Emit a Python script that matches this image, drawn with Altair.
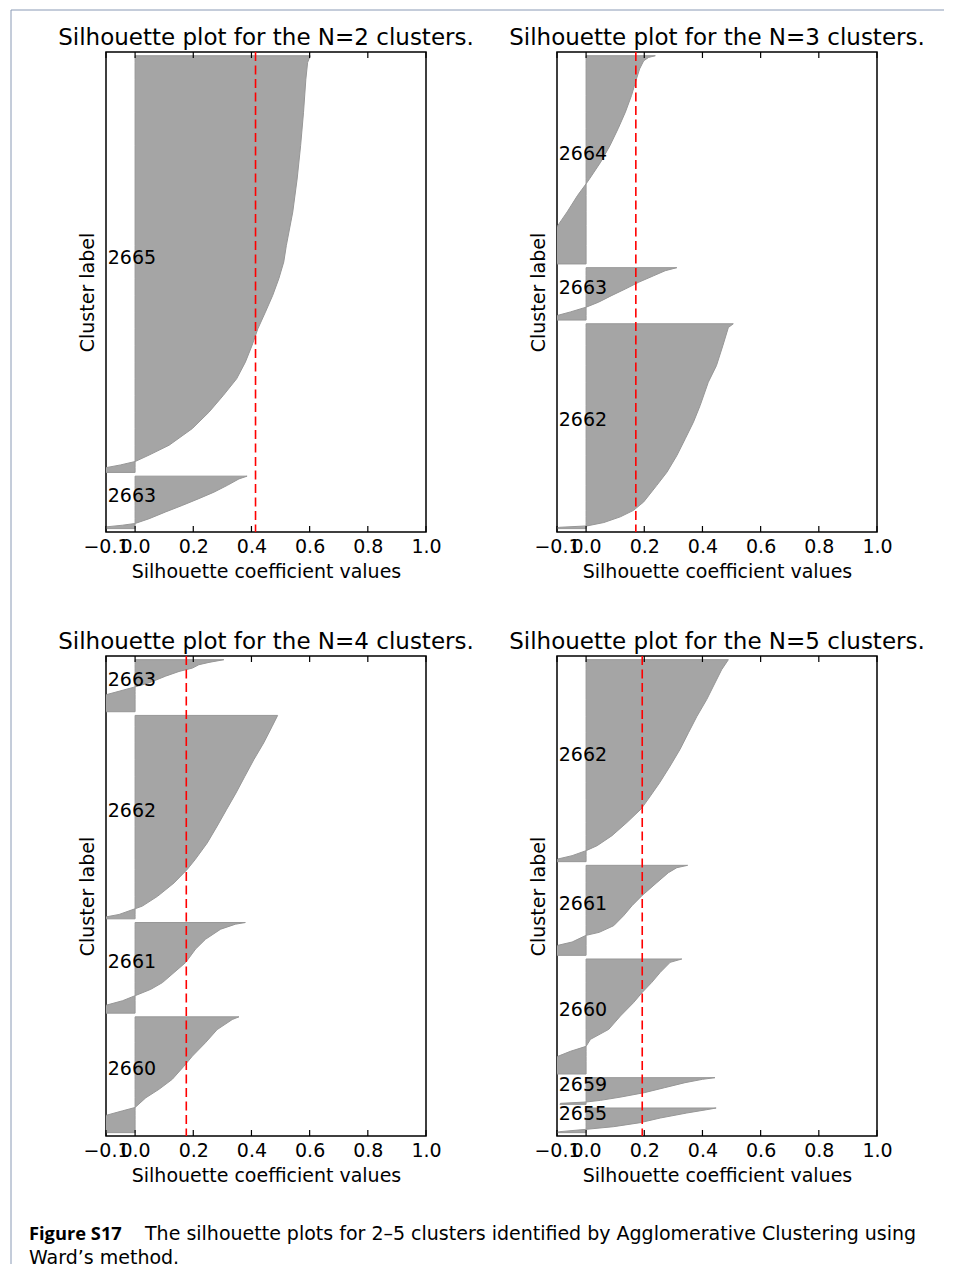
import altair as alt
import pandas as pd

FONT = "DejaVu Sans"
CAP_BOLD_FONT = "Open Sans"
X_TICKS = [-0.1, 0.0, 0.2, 0.4, 0.6, 0.8, 1.0]
N_SAMPLES = 1380
GAP = 10

TITLES = [
    "Silhouette plot for the N=2 clusters.",
    "Silhouette plot for the N=3 clusters.",
    "Silhouette plot for the N=4 clusters.",
    "Silhouette plot for the N=5 clusters.",
]
X_TITLE = "Silhouette coefficient values"
Y_TITLE = "Cluster label"
CAPTION_BOLD = "Figure S17"
CAPTION_LINE1 = "The silhouette plots for 2\u20135 clusters identified by Agglomerative Clustering using"
CAPTION_LINE2 = "Ward\u2019s method."

# ---------------- N = 2 (clusters listed bottom -> top) ----------------
n2_labels = ["2663", "2665"]
n2_sizes = [155, 1225]
n2_mean = 0.414
n2_2663_rank = [0, 5, 10, 15, 29, 49, 68, 88, 107, 127, 146, 154]
n2_2663_val = [-0.12, -0.10, -0.043, 0.0, 0.048, 0.105, 0.162, 0.219, 0.271, 0.317, 0.357, 0.385]
n2_2665_rank = [0, 7, 14, 22, 32, 51, 80, 129, 177, 226, 275, 324, 373, 422, 471, 520,
                569, 618, 667, 765, 862, 960, 1058, 1155, 1204, 1224]
n2_2665_val = [-0.2, -0.13, -0.10, -0.05, 0.0, 0.048, 0.117, 0.197, 0.254, 0.303, 0.349, 0.379,
               0.402, 0.422, 0.448, 0.473, 0.494, 0.511, 0.520, 0.542, 0.557, 0.569, 0.579,
               0.587, 0.593, 0.602]

# ---------------- N = 3 ----------------
n3_labels = ["2662", "2663", "2664"]
n3_sizes = [607, 156, 617]
n3_mean = 0.171
n3_2662_rank = [0, 4, 8, 18, 35, 54, 79, 128, 167, 216, 266, 315, 364, 433, 482, 541, 595, 606]
n3_2662_val = [-0.12, -0.09, 0.003, 0.061, 0.118, 0.163, 0.198, 0.243, 0.278, 0.312, 0.341,
               0.369, 0.392, 0.420, 0.448, 0.470, 0.489, 0.506]
n3_2663_rank = [0, 14, 24, 38, 53, 73, 92, 112, 131, 146, 155]
n3_2663_val = [-0.12, -0.097, -0.054, 0.0, 0.043, 0.089, 0.135, 0.181, 0.232, 0.272, 0.312]
n3_2664_rank = [0, 55, 114, 154, 203, 237, 252, 301, 350, 400, 449, 498, 547, 577, 601, 611, 616]
n3_2664_val = [-0.2, -0.14, -0.097, -0.065, -0.029, 0.0, 0.012, 0.05, 0.082, 0.11, 0.135,
               0.156, 0.173, 0.184, 0.198, 0.215, 0.238]

# ---------------- N = 4 ----------------
n4_labels = ["2660", "2661", "2662", "2663"]
n4_sizes = [346, 271, 607, 156]
n4_mean = 0.176
n4_2660_rank = [0, 20, 40, 52, 65, 75, 104, 129, 159, 198, 228, 268, 307, 337, 345]
n4_2660_val = [-0.2, -0.15, -0.12, -0.098, -0.043, 0.0, 0.037, 0.082, 0.128, 0.168, 0.197,
               0.242, 0.282, 0.334, 0.357]
n4_2661_rank = [0, 24, 37, 52, 71, 91, 121, 151, 191, 220, 250, 265, 270]
n4_2661_val = [-0.15, -0.098, -0.043, 0.0, 0.054, 0.094, 0.134, 0.174, 0.208, 0.242, 0.294,
               0.345, 0.379]
n4_2662_rank = [0, 6, 13, 30, 38, 67, 107, 147, 176, 226, 276, 325, 375, 424, 474, 524, 573, 606]
n4_2662_val = [-0.11, -0.098, -0.055, 0.0, 0.025, 0.077, 0.134, 0.179, 0.206, 0.248, 0.282,
               0.314, 0.347, 0.377, 0.408, 0.442, 0.471, 0.490]
n4_2663_rank = [0, 17, 37, 51, 61, 74, 86, 106, 120, 130, 140, 147, 155]
n4_2663_val = [-0.25, -0.18, -0.13, -0.098, -0.055, 0.0, 0.048, 0.105, 0.151, 0.197, 0.219,
               0.254, 0.305]

# ---------------- N = 5 ----------------
n5_labels = ["2655", "2659", "2660", "2661", "2662"]
n5_sizes = [75, 81, 346, 271, 607]
n5_mean = 0.193
n5_2655_rank = [0, 3, 10, 18, 30, 44, 59, 69, 74]
n5_2655_val = [-0.11, -0.09, 0.0, 0.095, 0.186, 0.255, 0.346, 0.415, 0.447]
n5_2659_rank = [0, 3, 7, 12, 22, 35, 50, 65, 75, 80]
n5_2659_val = [-0.09, -0.088, 0.0, 0.05, 0.12, 0.20, 0.27, 0.34, 0.40, 0.443]
n5_2660_rank = [0, 18, 38, 53, 68, 83, 104, 134, 174, 214, 244, 275, 305, 335, 345]
n5_2660_val = [-0.2, -0.15, -0.12, -0.097, -0.054, 0.0, 0.015, 0.078, 0.118, 0.163, 0.192,
               0.226, 0.255, 0.289, 0.329]
n5_2661_rank = [0, 30, 40, 60, 69, 89, 119, 149, 179, 218, 248, 263, 270]
n5_2661_val = [-0.13, -0.097, -0.048, 0.0, 0.045, 0.095, 0.129, 0.158, 0.192, 0.243, 0.283,
               0.312, 0.349]
n5_2662_rank = [0, 8, 18, 33, 48, 78, 118, 158, 187, 237, 287, 337, 387, 436, 487, 536, 576, 606]
n5_2662_val = [-0.1, -0.097, -0.048, 0.0, 0.038, 0.089, 0.141, 0.189, 0.213, 0.253, 0.289,
               0.323, 0.352, 0.381, 0.415, 0.443, 0.466, 0.489]

PANELS = [
    (TITLES[0], n2_mean, list(zip(n2_labels, n2_sizes,
                                  [n2_2663_rank, n2_2665_rank], [n2_2663_val, n2_2665_val]))),
    (TITLES[1], n3_mean, list(zip(n3_labels, n3_sizes,
                                  [n3_2662_rank, n3_2663_rank, n3_2664_rank],
                                  [n3_2662_val, n3_2663_val, n3_2664_val]))),
    (TITLES[2], n4_mean, list(zip(n4_labels, n4_sizes,
                                  [n4_2660_rank, n4_2661_rank, n4_2662_rank, n4_2663_rank],
                                  [n4_2660_val, n4_2661_val, n4_2662_val, n4_2663_val]))),
    (TITLES[3], n5_mean, list(zip(n5_labels, n5_sizes,
                                  [n5_2655_rank, n5_2659_rank, n5_2660_rank, n5_2661_rank, n5_2662_rank],
                                  [n5_2655_val, n5_2659_val, n5_2660_val, n5_2661_val, n5_2662_val]))),
]

W, H = 320, 480
LABEL_X = -0.094
FILL = "#a5a5a5"
EDGE = "#979797"
BORDER = "#8a9ab5"
one = pd.DataFrame({"d": [0]})


def build_panel(title, mean, clusters, extra=()):
    k = len(clusters)
    total = N_SAMPLES + GAP * (k + 1)
    rows, labs = [], []
    y_lower = GAP
    for label, size, ranks, vals in clusters:
        for r, v in zip(ranks, vals):
            rows.append({"cluster": label, "pos": y_lower + r, "val": v, "base": 0.0})
        labs.append({"cluster": label, "pos": y_lower + 0.5 * size, "val": LABEL_X})
        y_lower += size + GAP
    df = pd.DataFrame(rows)
    df_lab = pd.DataFrame(labs)

    xs = alt.Scale(domain=[-0.1, 1.0], nice=False, zero=False)
    ys = alt.Scale(domain=[0, total], nice=False, zero=False)
    x_enc = alt.X("val:Q", scale=xs, stack=None,
                  axis=alt.Axis(values=X_TICKS, format=".1f", title=X_TITLE, ticks=False,
                                tickSize=0, domain=False, grid=False, labelOverlap=False,
                                labelFlush=False, labelPadding=5, titlePadding=6))
    y_enc = alt.Y("pos:Q", scale=ys,
                  axis=alt.Axis(title=Y_TITLE, labels=False, ticks=False, domain=False,
                                grid=False, titlePadding=9))

    area = alt.Chart(df).mark_area(orient="horizontal", fill=FILL, stroke=EDGE,
                                   strokeWidth=1, clip=True).encode(
        y=y_enc, x=x_enc, x2=alt.X2("base"), detail="cluster:N")
    text = alt.Chart(df_lab).mark_text(align="left", baseline="alphabetic", font=FONT,
                                       fontSize=19, color="black").encode(
        x=x_enc, y=y_enc, text="cluster:N")
    mean_rule = alt.Chart(pd.DataFrame({"val": [mean]})).mark_rule(
        color="#ff0000", strokeDash=[9, 4.5], strokeWidth=1.6).encode(x=x_enc)
    df_ticks = pd.DataFrame({"val": X_TICKS})
    ticks_bottom = alt.Chart(df_ticks).mark_rule(color="black", strokeWidth=1.2).encode(
        x=x_enc, y=alt.value(H), y2=alt.value(H - 6))
    ticks_top = alt.Chart(df_ticks).mark_rule(color="black", strokeWidth=1.2).encode(
        x=x_enc, y=alt.value(0), y2=alt.value(6))
    head = alt.Chart(one).mark_text(align="center", baseline="alphabetic", font=FONT,
                                    fontSize=23, color="black").encode(
        x=alt.value(W / 2), y=alt.value(-7), text=alt.value(title))

    layers = [area, mean_rule, text, ticks_bottom, ticks_top, head] + list(extra)
    return alt.layer(*layers).properties(width=W, height=H)


border = [
    alt.Chart(one).mark_rule(color=BORDER, strokeWidth=1).encode(
        x=alt.value(-95), y=alt.value(-42), y2=alt.value(1212)),
    alt.Chart(one).mark_rule(color=BORDER, strokeWidth=1).encode(
        x=alt.value(-95), x2=alt.value(838), y=alt.value(-42)),
]
caption = [
    alt.Chart(one).mark_text(align="left", baseline="alphabetic", font=CAP_BOLD_FONT, fontSize=18.3,
                             fontWeight="bold", color="black").encode(
        x=alt.value(-77), y=alt.value(584), text=alt.value(CAPTION_BOLD)),
    alt.Chart(one).mark_text(align="left", baseline="alphabetic", font=FONT, fontSize=19,
                             color="black").encode(
        x=alt.value(39), y=alt.value(584), text=alt.value(CAPTION_LINE1)),
    alt.Chart(one).mark_text(align="left", baseline="alphabetic", font=FONT, fontSize=19,
                             color="black").encode(
        x=alt.value(-77), y=alt.value(608), text=alt.value(CAPTION_LINE2)),
]

p1 = build_panel(*PANELS[0], extra=border)
p2 = build_panel(*PANELS[1])
p3 = build_panel(*PANELS[2], extra=caption)
p4 = build_panel(*PANELS[3])

chart = alt.concat(p1, p2, p3, p4, columns=2, spacing={"row": 124, "column": 131},
                   bounds="flush").properties(
    padding={"left": 1, "top": 0, "right": 0, "bottom": 0}, background="white"
).configure_view(stroke="black", strokeWidth=1.5).configure_axis(
    labelFont=FONT, titleFont=FONT, labelFontSize=19, titleFontSize=19,
    labelColor="black", titleColor="black", titleFontWeight="normal"
)

chart.save("out.html", embed_options={"renderer": "svg", "actions": False})
